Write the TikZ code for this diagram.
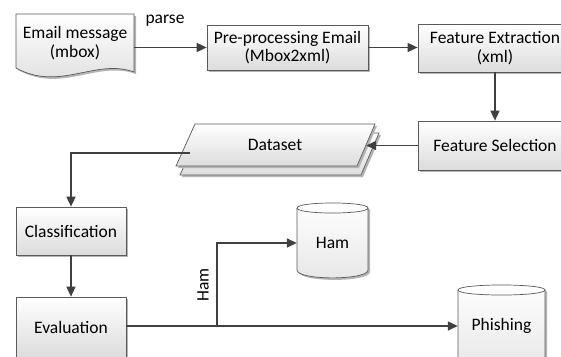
\documentclass[tikz,border=0pt]{standalone}
\usepackage{fontspec}
\setmainfont{Carlito}
\usetikzlibrary{arrows.meta,shadows}
\definecolor{linegray}{HTML}{404040}
\definecolor{edgegray}{HTML}{5A5A5A}
\definecolor{fillgray}{HTML}{DCDCDC}
\definecolor{shadowgray}{HTML}{B4B4B4}
% draw a vertical storage drum: left x, right x, top y, bottom y (pixel units, y downwards)
\newcommand\drawdrum[4]{%
  \path[drumfill] (#1,#3+5) -- (#1,#4-8) .. controls (#1,#4+2.5) and (#2,#4+2.5) .. (#2,#4-8)
    -- (#2,#3+5) .. controls (#2,#3-1.7) and (#1,#3-1.7) .. (#1,#3+5) -- cycle;
  \draw[drumline] (#1,#3+5) .. controls (#1,#3+11.7) and (#2,#3+11.7) .. (#2,#3+5);
}
\begin{document}
\begin{tikzpicture}[x=1pt,y=-1pt,
  font=\fontsize{17.5}{18.5}\selectfont,
  flow/.style={draw=linegray, line width=1.5pt, -{Triangle[length=10pt,width=9pt]}},
  shadowed/.style={drop shadow={shadow xshift=2pt,shadow yshift=-2pt,fill=shadowgray,opacity=1}},
  box/.style={draw=edgegray, line width=0.7pt, top color=white, bottom color=fillgray,
    shadowed, align=center, inner sep=0pt},
  drumfill/.style={draw=edgegray, line width=0.7pt, top color=white, bottom color=fillgray!70, shadowed},
  drumline/.style={draw=edgegray, line width=0.7pt},
  lbl/.style={inner sep=0pt, align=center}]
\useasboundingbox (0,0) rectangle (561,356);
\clip (0,0) rectangle (561,356);

% email document shape
\path[box] (16,14) -- (134,14) -- (134,72) .. controls (95,58) and (60,92) .. (16,68) -- cycle;
\node[lbl, minimum width=118, minimum height=58] (mail) at (75,43) {Email message\\(mbox)};

% process boxes
\node[box, minimum width=161, minimum height=45] (pre) at (287.5,47.5) {Pre-processing Email\\(Mbox2xml)};
\node[box, minimum width=154, minimum height=48] (fe) at (495,48) {Feature Extraction\\(xml)};
\node[box, minimum width=154, minimum height=49] (fs) at (495,145.5) {Feature Selection};
\node[box, minimum width=110, minimum height=48] (cls) at (71,231) {Classification};
\node[box, minimum width=110, minimum height=60] (eval) at (71,327) {Evaluation};

% dataset: stacked parallelograms
\path[box] (199,133) -- (379,133) -- (361,175) -- (180,175) -- cycle;
\path[box] (195,124) -- (375,124) -- (357,166) -- (176,166) -- cycle;
\node[lbl, minimum width=182, minimum height=42] (ds) at (275,145) {Dataset};
\coordinate (dsout) at (190,153);

% storage drums
\drawdrum{297}{368}{203}{278}
\node[lbl, minimum width=71, minimum height=60] (ham) at (332.5,243) {Ham};
\drawdrum{458}{545}{285}{368}
\node[lbl, minimum width=87, minimum height=60] (phish) at (501.5,326) {Phishing};

% connectors
\draw[flow] (mail.east |- pre.west) -- (pre.west);
\node[lbl] (parse) at (165,21) {parse};
\draw[flow] (pre.east) -- (pre.east -| fe.west);
\draw[flow] (fe.south) -- (fs.north);
\draw[flow] (fs.west) -- (fs.west -| ds.east);
\draw[flow] (dsout) -| (cls.north);
\draw[flow] (cls.south) -- (eval.north);
\coordinate (split) at (217,326);
\draw[flow] (eval.east |- split) -- (phish.west |- split);
\draw[flow] (split) |- (ham.west);
\node[lbl, rotate=90] (hamlbl) at (203,285) {Ham};
\end{tikzpicture}
\end{document}
